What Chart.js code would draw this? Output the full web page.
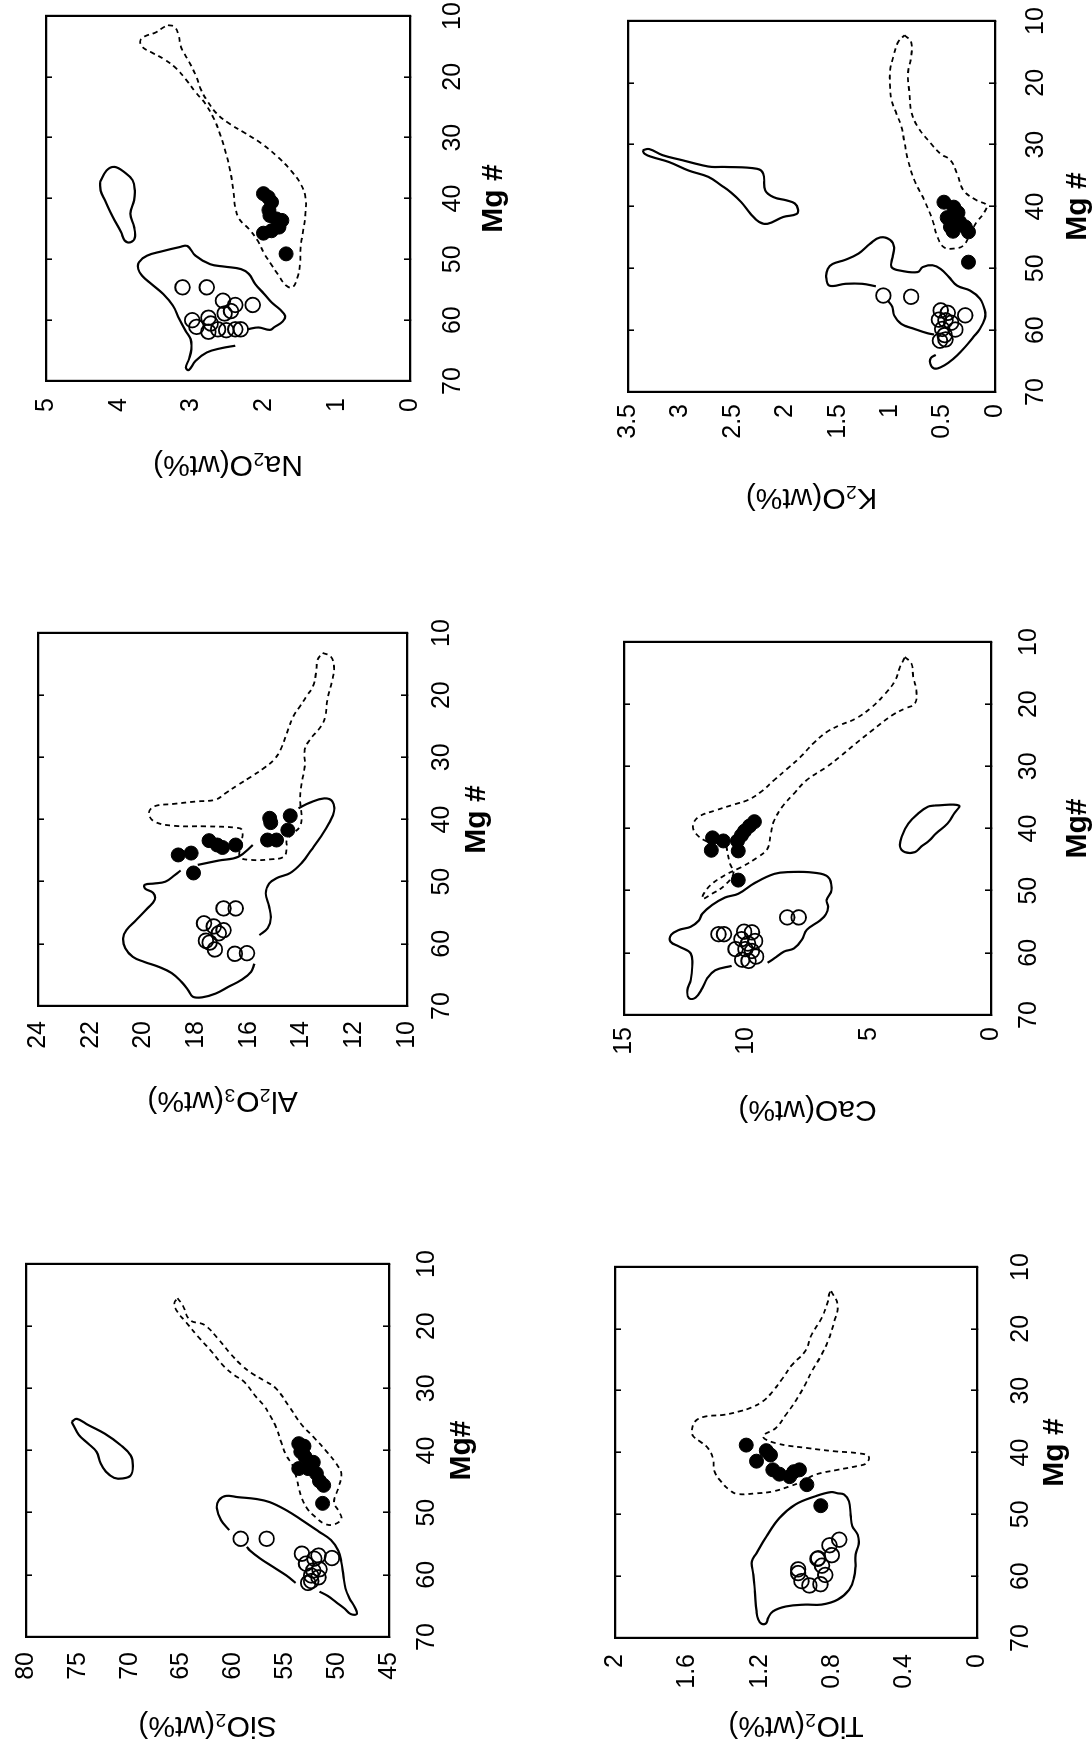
<!DOCTYPE html>
<html>
<head>
<meta charset="utf-8">
<script src="https://cdn.jsdelivr.net/npm/chart.js@4.4.0/dist/chart.umd.min.js"></script>
<style>
html,body{margin:0;padding:0;background:#fff;overflow:hidden;width:1092px;height:1745px;}
#fig{position:absolute;left:0;top:0;width:1745px;height:1092px;transform-origin:0 0;transform:translateY(1745px) rotate(-90deg);}
#fig canvas{position:absolute;}
</style>
</head>
<body>
<div id="fig"></div>
<script>
// ---------- tick values ----------
const mgTicks = [10,20,30,40,50,60,70];
const sio2Ticks = [45,50,55,60,65,70,75,80];
const al2o3Ticks = [10,12,14,16,18,20,22,24];
const na2oTicks = [0,1,2,3,4,5];
const tio2Ticks = [0,0.4,0.8,1.2,1.6,2];
const caoTicks = [0,5,10,15];
const k2oTicks = [0,0.5,1,1.5,2,2.5,3,3.5];

// ---------- SiO2 vs Mg# ----------
const sio2Open = [[54.2,59.3],[54.2,56.8],[56.6,53.4],[56.9,51.8],[57.3,50.5],[57.4,52.2],[58.2,53.0],[59.1,51.7],[59.3,52.3],[60.1,52.5],[60.4,51.8],[61.3,52.8],[61.0,52.5]];
const sio2Filled = [[38.9,53.7],[39.3,53.2],[40.2,53.5],[41.0,53.1],[42.9,53.7],[42.9,52.8],[41.9,52.3],[43.7,52.0],[44.9,51.7],[45.6,51.3],[48.5,51.4]];
const sio2Solid1 = [[35.4,75.6],[34.9,75.1],[35.9,74.0],[37.3,72.4],[39.1,70.9],[40.8,69.9],[42.4,69.7],[44.0,69.9],[44.5,70.7],[44.4,71.5],[43.4,72.3],[42.1,72.8],[40.2,73.2],[38.9,74.0],[37.5,74.9],[35.4,75.6]];
const sio2Solid2a = [[61.3,54.0],[60.1,54.9],[58.7,56.2],[57.4,57.4],[56.1,58.4],[55.5,58.7]];
const sio2Solid2b = [[52.8,60.4],[51.2,61.2],[49.3,61.6],[48.0,61.4],[47.3,60.7],[47.5,59.6],[47.8,57.8],[48.3,56.5],[49.6,54.9],[51.2,53.4],[53.0,51.8],[54.4,50.6],[56.1,49.9],[57.9,49.6],[60.1,49.4],[62.2,49.2],[63.8,48.8],[65.2,48.3],[66.3,48.1],[66.3,48.7],[65.4,49.3],[64.4,50.1],[63.4,50.9],[62.7,51.7]];
const sio2Dash = [[15.5,65.4],[16.6,64.9],[19.0,64.2],[19.8,62.8],[22.0,61.5],[24.4,60.3],[26.3,59.2],[27.6,58.2],[28.7,57.1],[30.0,55.9],[33.0,54.6],[35.9,53.4],[37.8,52.3],[40.2,51.0],[42.1,50.1],[43.7,49.6],[46.1,49.9],[48.3,50.3],[49.9,49.8],[51.0,49.6],[51.9,50.3],[51.8,51.2],[50.7,52.1],[49.3,52.9],[47.7,53.4],[46.1,53.7],[44.5,53.9],[42.4,54.3],[40.8,54.9],[38.6,55.4],[36.2,55.9],[34.3,56.5],[32.7,57.1],[31.4,57.8],[28.9,59.0],[27.9,59.9],[26.5,60.9],[24.1,62.1],[21.7,63.4],[19.3,64.6],[17.7,65.4],[16.3,65.7],[15.5,65.4]];

// ---------- Al2O3 vs Mg# ----------
const al2o3Open = [[54.3,16.96],[54.3,16.5],[56.7,17.7],[57.2,17.33],[57.8,16.96],[58.3,17.14],[59.5,17.63],[59.8,17.49],[60.9,17.29],[61.6,16.53],[61.5,16.07]];
const al2o3Filled = [[45.7,18.68],[45.4,18.19],[48.6,18.1],[43.4,17.51],[44.1,17.2],[44.5,17.0],[44.1,16.5],[39.8,15.21],[40.5,15.17],[43.3,15.29],[43.3,14.95],[41.7,14.52],[39.4,14.43]];
const al2o3SolidA = [[47.3,17.94],[46.6,17.14],[46.0,16.4],[44.1,15.85]];
const al2o3SolidB = [[38.2,14.12],[37.3,13.69],[36.6,13.14],[37.1,12.83],[38.7,12.77],[40.6,12.96],[42.7,13.26],[44.9,13.63],[47.0,14.0],[48.6,14.43],[49.4,14.93],[50.3,15.23],[51.9,15.36],[54.0,15.23],[55.9,15.17],[57.5,15.29],[58.6,15.6]];
const al2o3SolidC = [[63.2,15.79],[64.5,15.91],[65.8,16.28],[66.9,16.77],[68.0,17.26],[68.6,17.76],[68.5,18.13],[67.4,18.31],[66.1,18.56],[64.7,18.93],[63.7,19.42],[62.9,19.97],[62.1,20.4],[60.7,20.69],[59.1,20.77],[57.8,20.65],[56.2,20.28],[54.3,19.85],[52.9,19.57],[51.8,19.63],[51.1,19.94],[50.5,19.95],[50.3,19.6],[50.0,19.17],[48.9,18.8],[48.2,18.59]];
const al2o3Dash = [[13.2,13.2],[13.8,12.89],[15.4,12.77],[17.5,12.83],[20.7,13.02],[23.4,13.1],[25.0,13.26],[27.2,13.69],[28.8,13.88],[31.5,13.88],[34.2,14.0],[36.8,14.06],[39.5,14.0],[41.1,14.06],[42.2,14.31],[43.3,14.56],[44.6,14.56],[46.0,14.68],[46.4,15.17],[46.5,15.91],[46.0,16.34],[43.8,16.28],[41.7,16.26],[41.3,16.53],[41.1,17.63],[41.0,18.87],[40.3,19.6],[39.0,19.79],[37.9,19.6],[37.5,18.87],[37.1,18.0],[36.8,17.26],[35.8,16.9],[34.4,16.4],[33.1,15.91],[31.7,15.42],[30.4,15.05],[28.8,14.8],[26.1,14.56],[23.4,14.31],[21.8,14.06],[20.2,13.82],[18.6,13.57],[16.4,13.45],[14.3,13.39],[13.2,13.2]];

// ---------- Na2O vs Mg# ----------
const na2oOpen = [[54.6,3.124],[54.6,2.791],[56.8,2.569],[57.5,2.40],[57.5,2.16],[58.5,2.458],[58.9,2.547],[59.6,2.769],[60.0,2.991],[61.1,2.933],[60.55,2.738],[61.5,2.636],[61.9,2.769],[61.65,2.524],[61.5,2.40],[61.5,2.324]];
const na2oFilled = [[39.2,2.013],[39.8,1.947],[40.6,1.902],[41.9,1.938],[42.8,1.924],[43.35,1.836],[43.6,1.76],[44.7,1.80],[45.3,1.902],[45.7,2.013],[49.1,1.702]];
const na2oSolid1 = [[37.3,4.258],[35.4,4.17],[34.8,4.06],[35.7,3.92],[37.0,3.81],[38.7,3.78],[40.3,3.79],[42.5,3.84],[44.7,3.79],[46.4,3.78],[47.2,3.84],[46.9,3.92],[45.5,3.97],[43.1,4.08],[40.3,4.19],[38.7,4.25],[37.3,4.258]];
const na2oSolid2 = [[61.5,2.236],[61.2,2.08],[61.6,1.925],[61.1,1.858],[60.2,1.747],[59.3,1.716],[58.2,1.79],[57.1,1.9],[55.6,2.01],[54.1,2.124],[52.4,2.213],[51.6,2.324],[51.2,2.547],[50.8,2.747],[49.4,2.947],[47.8,3.058],[48.0,3.17],[48.7,3.413],[49.4,3.613],[50.5,3.724],[51.6,3.733],[52.7,3.68],[54.1,3.547],[55.7,3.39],[57.6,3.258],[59.8,3.17],[61.8,3.08],[63.1,3.013],[64.8,3.004],[66.4,3.036],[67.8,3.08],[68.2,3.036],[66.7,2.947],[65.3,2.79],[64.6,2.59],[64.2,2.4]];
const na2oDash = [[11.5,3.324],[11.76,3.236],[13.1,3.18],[15.05,3.147],[17.5,3.036],[20.0,2.933],[21.9,2.88],[23.85,2.79],[26.0,2.658],[27.7,2.48],[29.3,2.258],[31.0,2.036],[33.2,1.813],[35.4,1.636],[37.6,1.502],[39.8,1.436],[42.5,1.436],[45.3,1.467],[48.0,1.502],[50.8,1.511],[53.0,1.547],[54.6,1.613],[54.3,1.702],[52.5,1.813],[50.9,1.902],[49.1,2.0],[47.0,2.089],[45.0,2.213],[43.35,2.347],[41.4,2.40],[38.7,2.427],[35.4,2.471],[32.4,2.533],[29.6,2.604],[26.9,2.693],[24.4,2.813],[22.5,2.947],[20.4,3.08],[18.6,3.213],[17.1,3.378],[16.0,3.547],[15.05,3.68],[13.96,3.702],[13.3,3.636],[12.75,3.502],[11.9,3.391],[11.5,3.324]];

// ---------- TiO2 vs Mg# ----------
const tio2Open = [[54.1,0.761],[55.0,0.815],[56.6,0.802],[57.1,0.877],[58.3,0.856],[59.8,0.838],[61.3,0.865],[61.5,0.926],[60.8,0.97],[59.5,0.988],[58.9,0.988],[57.2,0.881]];
const tio2Filled = [[38.8,1.275],[39.7,1.164],[40.4,1.141],[41.4,1.218],[42.8,1.128],[43.5,1.092],[43.9,1.035],[43.1,1.012],[42.8,0.981],[45.2,0.94],[48.6,0.863]];
const tio2Solid = [[46.6,0.77],[46.8,0.734],[47.9,0.707],[50.1,0.698],[51.9,0.689],[53.3,0.659],[54.9,0.654],[56.5,0.671],[58.4,0.671],[60.3,0.68],[62.2,0.707],[63.8,0.77],[64.6,0.859],[64.6,0.949],[64.9,1.056],[65.7,1.128],[66.8,1.155],[67.6,1.164],[67.7,1.191],[67.0,1.209],[65.7,1.218],[62.5,1.227],[59.8,1.235],[57.6,1.244],[56.3,1.218],[53.6,1.164],[50.6,1.092],[48.4,1.003],[47.1,0.895],[46.4,0.806],[46.6,0.77]];
const tio2Dash = [[13.9,0.806],[16.1,0.77],[18.8,0.788],[22.0,0.824],[24.2,0.859],[26.9,0.913],[29.0,0.949],[31.7,1.003],[33.9,1.056],[36.0,1.11],[37.4,1.182],[38.5,1.11],[39.3,0.931],[39.8,0.788],[40.1,0.663],[40.6,0.6],[41.7,0.609],[42.2,0.663],[42.8,0.77],[43.6,0.895],[44.7,0.967],[45.5,1.038],[46.3,1.128],[46.6,1.218],[46.7,1.325],[46.0,1.37],[44.7,1.414],[43.1,1.45],[40.9,1.459],[39.3,1.486],[38.2,1.531],[37.4,1.567],[36.6,1.576],[35.0,1.558],[34.2,1.504],[33.9,1.397],[33.3,1.307],[32.8,1.253],[31.7,1.182],[30.1,1.128],[28.0,1.074],[25.8,1.021],[23.6,0.949],[20.9,0.913],[18.3,0.859],[15.6,0.824],[14.2,0.815],[13.9,0.806]];

// ---------- CaO vs Mg# ----------
const caoOpen = [[57.0,11.14],[57.0,10.91],[56.6,10.09],[56.7,9.77],[57.8,10.2],[58.1,9.64],[58.5,9.93],[59.4,10.44],[59.4,10.04],[59.7,9.77],[61.1,10.17],[61.3,9.91],[60.6,9.6],[54.3,8.33],[54.3,7.86]];
const caoFilled = [[38.9,9.67],[39.6,9.87],[40.4,10.07],[41.1,10.2],[42.0,10.36],[43.6,10.33],[41.5,11.38],[42.0,10.94],[43.5,11.43],[48.3,10.33]];
const caoSolid1 = [[62.1,10.6],[62.8,11.27],[64.1,11.6],[65.7,11.8],[67.2,12.07],[67.3,12.34],[66.0,12.41],[64.4,12.27],[62.2,12.21],[60.1,12.27],[59.0,12.74],[58.2,13.1],[57.1,13.07],[56.3,12.74],[55.8,12.27],[54.8,11.94],[53.7,11.8],[52.3,11.4],[51.1,10.87],[50.5,10.33],[48.8,9.67],[47.3,8.86],[47.0,8.2],[47.1,7.26],[47.8,6.66],[49.9,6.52],[51.5,6.72],[52.6,6.66],[53.8,6.75],[54.8,6.99],[56.3,7.53],[57.9,7.73],[59.3,8.06],[59.8,8.46],[60.9,8.86],[61.6,9.13]];
const caoSolid2 = [[36.3,2.31],[36.3,1.31],[37.6,1.51],[39.2,1.78],[40.8,2.25],[41.9,2.51],[42.9,2.85],[43.8,3.11],[43.8,3.52],[42.9,3.72],[41.3,3.65],[39.2,3.38],[37.6,2.98],[36.5,2.58],[36.3,2.31]];
const caoDash = [[12.4,3.52],[13.5,3.25],[15.6,3.18],[17.8,3.05],[19.9,3.11],[20.7,3.52],[21.8,4.05],[24.2,4.85],[26.3,5.52],[28.5,6.19],[30.1,6.72],[32.2,7.53],[34.4,8.06],[36.5,8.53],[38.7,8.86],[40.8,9.0],[43.2,9.13],[44.6,9.53],[46.2,10.2],[47.5,10.87],[49.4,11.54],[51.3,11.8],[50.5,11.4],[49.1,10.87],[47.2,10.53],[45.6,10.67],[43.2,10.8],[41.5,10.8],[41.2,11.07],[42.1,11.27],[42.1,11.6],[40.8,12.07],[39.5,12.18],[38.1,11.94],[37.1,11.27],[36.1,10.47],[35.4,9.93],[34.1,9.4],[32.2,8.86],[30.4,8.33],[28.5,7.79],[26.3,7.26],[24.5,6.72],[23.4,6.19],[22.3,5.52],[20.4,4.85],[18.3,4.32],[16.2,3.92],[14.0,3.72],[12.9,3.58],[12.4,3.52]];

// ---------- K2O vs Mg# ----------
const k2oOpen = [[54.4,1.065],[54.6,0.8],[56.8,0.518],[57.2,0.45],[57.6,0.284],[58.3,0.534],[58.4,0.472],[58.8,0.418],[59.8,0.503],[59.9,0.378],[60.8,0.48],[61.7,0.525],[61.5,0.472]];
const k2oFilled = [[39.3,0.487],[40.1,0.393],[41.0,0.353],[41.8,0.456],[43.3,0.425],[42.5,0.337],[43.3,0.284],[44.0,0.4],[44.1,0.253],[49.0,0.253]];
const k2oSolid1 = [[30.9,3.36],[30.7,3.3],[31.7,3.17],[32.5,2.985],[33.3,2.8],[33.6,2.7],[33.6,2.58],[33.9,2.27],[34.7,2.21],[37.4,2.19],[38.5,2.11],[39.0,1.99],[39.5,1.91],[40.4,1.88],[41.2,1.89],[41.7,2.02],[42.8,2.17],[42.5,2.25],[41.2,2.33],[39.3,2.42],[37.7,2.52],[36.6,2.61],[35.2,2.735],[34.2,2.92],[32.8,3.11],[32.0,3.27],[31.5,3.34],[30.9,3.36]];
const k2oSolid2a = [[52.9,1.136],[52.5,1.268],[52.5,1.424],[52.8,1.58],[51.4,1.61],[50.1,1.595],[49.3,1.55],[48.6,1.424],[47.6,1.3],[46.0,1.19],[45.0,1.096],[45.4,1.0],[46.6,0.962],[48.2,0.977],[49.8,0.987],[50.4,0.893],[50.6,0.737],[49.8,0.69],[49.5,0.596],[50.1,0.518],[51.4,0.44],[52.8,0.362],[53.6,0.237],[54.9,0.144],[56.8,0.097],[58.1,0.097],[59.8,0.144],[61.1,0.206],[62.7,0.284],[64.1,0.362],[65.2,0.44],[66.0,0.518],[66.2,0.581],[65.4,0.618],[64.5,0.612],[64.0,0.565]];
const k2oSolid2b = [[55.2,1.024],[56.2,0.98],[57.6,0.962],[59.0,0.893],[59.8,0.768],[60.5,0.643],[60.7,0.581]];
const k2oDash = [[12.3,0.862],[13.4,0.8],[15.8,0.8],[18.5,0.83],[21.8,0.815],[24.5,0.8],[27.1,0.737],[29.8,0.612],[31.5,0.518],[32.5,0.425],[34.7,0.362],[37.4,0.3],[39.0,0.175],[39.8,0.081],[41.2,0.112],[42.5,0.175],[44.4,0.237],[46.3,0.3],[46.8,0.393],[46.6,0.487],[44.9,0.55],[42.2,0.596],[39.0,0.674],[35.8,0.768],[32.5,0.83],[29.8,0.862],[27.1,0.893],[25.0,0.94],[22.8,0.987],[20.7,1.0],[18.0,1.0],[15.8,0.97],[13.4,0.924],[12.3,0.862]];

// ---------- layout / style ----------
const NUM_FONT = "'Liberation Sans Narrow','Arial Narrow','Liberation Sans',Arial,sans-serif";
const TXT_FONT = "'Liberation Sans',Arial,Helvetica,sans-serif";
Chart.defaults.color = '#000';
Chart.defaults.font.family = TXT_FONT;
const L = 135, T = 20, R = 20, B = 120;
const TICK_SIZE = 25, YTITLE_SIZE = 30, XTITLE_SIZE = 30;

const panels = [
  {box:[108,16,481,389], yMin:45, yMax:80, yTicks:sio2Ticks, yTitle:'SiO₂(wt%)', xTitle:'Mg#', yGap:15, yOff:88, xGap:29, xOff:73,
   solid:[sio2Solid1, sio2Solid2a, sio2Solid2b], dash:[sio2Dash], open:sio2Open, filled:sio2Filled},
  {box:[739,28,1112,407], yMin:10, yMax:24, yTicks:al2o3Ticks, yTitle:'Al₂O₃(wt%)', xTitle:'Mg #', yGap:15, yOff:94, xGap:26, xOff:70,
   solid:[al2o3SolidA, al2o3SolidB, al2o3SolidC], dash:[al2o3Dash], open:al2o3Open, filled:al2o3Filled},
  {box:[1364,34,1729,410], yMin:0, yMax:5, yTicks:na2oTicks, yTitle:'Na₂O(wt%)', xTitle:'Mg #', yGap:17, yOff:83, xGap:34, xOff:84,
   solid:[na2oSolid1, na2oSolid2], dash:[na2oDash], open:na2oOpen, filled:na2oFilled},
  {box:[107,604,478,977], yMin:0, yMax:2, yTicks:tio2Ticks, yTitle:'TiO₂(wt%)', xTitle:'Mg #', yGap:16, yOff:87, xGap:35, xOff:78,
   solid:[tio2Solid], dash:[tio2Dash], open:tio2Open, filled:tio2Filled},
  {box:[730,617,1103,991], yMin:0, yMax:15, yTicks:caoTicks, yTitle:'CaO(wt%)', xTitle:'Mg#', yGap:12, yOff:94, xGap:29, xOff:87,
   solid:[caoSolid1, caoSolid2], dash:[caoDash], open:caoOpen, filled:caoFilled},
  {box:[1353,621,1724,995], yMin:0, yMax:3.5, yTicks:k2oTicks, yTitle:'K₂O(wt%)', xTitle:'Mg #', yGap:12, yOff:105, xGap:32, xOff:83,
   solid:[k2oSolid1, k2oSolid2a, k2oSolid2b], dash:[k2oDash], open:k2oOpen, filled:k2oFilled}
];

const toXY = a => a.map(q => ({x:q[0], y:q[1]}));
const setTicks = arr => s => { s.ticks = arr.map(v => ({value:v})); };
const fig = document.getElementById('fig');

panels.forEach(p => {
  const [x0,y0,x1,y1] = p.box;
  const w = x1 - x0 + L + R, h = y1 - y0 + T + B;
  const c = document.createElement('canvas');
  c.width = w; c.height = h;
  c.style.width = w + 'px'; c.style.height = h + 'px';
  c.style.left = (x0 - L) + 'px'; c.style.top = (y0 - T) + 'px';
  fig.appendChild(c);

  const datasets = [
    {data:toXY(p.filled), showLine:false, pointRadius:7, pointBorderWidth:1, pointBackgroundColor:'#000', pointBorderColor:'#000'},
    {data:toXY(p.open), showLine:false, pointRadius:7.3, pointBorderWidth:1.8, pointBackgroundColor:'rgba(0,0,0,0)', pointBorderColor:'#000'}
  ];
  p.solid.forEach(s => datasets.push({data:toXY(s), showLine:true, pointRadius:0, borderColor:'#000', borderWidth:2.2, tension:0.4, fill:false}));
  p.dash.forEach(s => datasets.push({data:toXY(s), showLine:true, pointRadius:0, borderColor:'#000', borderWidth:1.8, borderDash:[5,4], tension:0.4, fill:false}));

  const tickGrid = {display:true, drawOnChartArea:false, drawTicks:true, tickLength:-6, color:'#000', lineWidth:1.6};
  const border = {display:true, color:'#000', width:2.2};

  new Chart(c, {
    type:'scatter',
    data:{datasets},
    options:{
      responsive:false, animation:false, devicePixelRatio:1, events:[],
      layout:{padding:{left:0, top:T, right:R, bottom:0}},
      plugins:{legend:{display:false}, tooltip:{enabled:false}},
      scales:{
        x:{type:'linear', position:'bottom', min:10, max:70, reverse:true,
           afterBuildTicks:setTicks(mgTicks), afterFit:s => { s.height = B; },
           grid:tickGrid, border:border,
           ticks:{color:'#000', padding:p.xGap, maxRotation:0, autoSkip:false, font:{family:NUM_FONT, size:TICK_SIZE}, callback:v => String(v)},
           title:{display:true, text:p.xTitle, color:'#000', font:{family:TXT_FONT, size:XTITLE_SIZE, weight:'bold'}, padding:{top:0, bottom:B - p.xOff - XTITLE_SIZE*0.6}}},
        x2:{type:'linear', position:'top', min:10, max:70, reverse:true,
           afterBuildTicks:setTicks(mgTicks), afterFit:s => { s.height = 0; },
           grid:tickGrid, border:border, ticks:{display:false}},
        y:{type:'linear', position:'left', min:p.yMin, max:p.yMax,
           afterBuildTicks:setTicks(p.yTicks), afterFit:s => { s.width = L; },
           grid:{display:false, drawTicks:false}, border:border,
           ticks:{color:'#000', padding:p.yGap, autoSkip:false, font:{family:NUM_FONT, size:TICK_SIZE}, callback:v => String(v)},
           title:{display:true, text:p.yTitle, color:'#000', font:{family:TXT_FONT, size:YTITLE_SIZE}, padding:{top:L - p.yOff - YTITLE_SIZE*0.6, bottom:0}}},
        y2:{type:'linear', position:'right', min:p.yMin, max:p.yMax,
           afterFit:s => { s.width = 0; },
           grid:{display:false, drawTicks:false}, border:border, ticks:{display:false}}
      }
    }
  });
});
</script>
</body>
</html>
